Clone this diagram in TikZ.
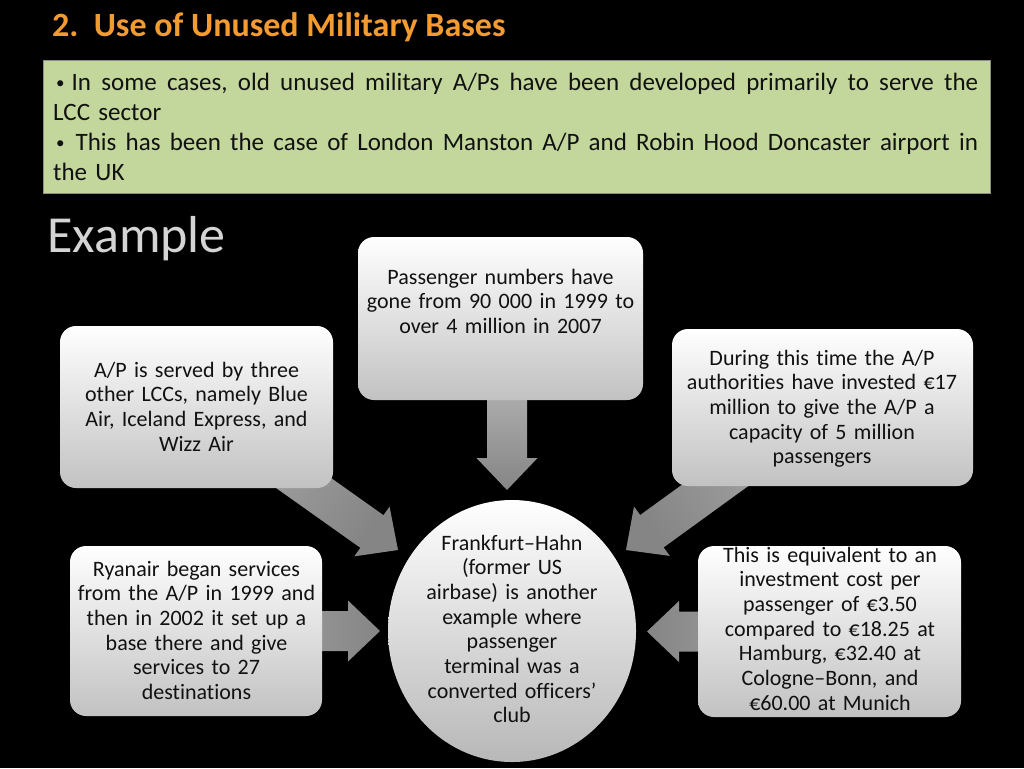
\documentclass[tikz,border=0pt]{standalone}
\usepackage{fontspec}
\setmainfont{Carlito}[Ligatures=NoCommon]
\usetikzlibrary{shapes.geometric,calc}
\pgfdeclarelayer{bg}
\pgfsetlayers{bg,main}
\definecolor{introgreen}{HTML}{C3D69B}
\definecolor{titleorange}{HTML}{F39A30}
\definecolor{examplegray}{HTML}{D4D4D4}
\definecolor{arrowlight}{HTML}{AEAEAE}
\definecolor{arrowdark}{HTML}{858585}
\definecolor{bodytext}{HTML}{111111}
\tikzset{
  infobox/.style={rectangle, rounded corners=16pt, shading=axis, top color=white, bottom color=black!24, inner sep=0},
  hubcircle/.style={ellipse, shading=axis, top color=white, bottom color=black!28, inner sep=0, minimum width=248pt, minimum height=262pt},
  boxtext/.style={anchor=base, inner sep=0, align=center, text=bodytext, text width=290pt, font=\fontsize{22}{24.7}\selectfont},
}
\newcommand{\blkarrow}[3]{%
  \coordinate (bhd) at ($(#3)!32pt!(#2)$);
  \fill[#1] ($(#2)!20pt!90:(#3)$) -- ($(bhd)!20pt!90:(#3)$) -- ($(bhd)!30.5pt!90:(#3)$) -- (#3)
    -- ($(bhd)!30.5pt!-90:(#3)$) -- ($(bhd)!20pt!-90:(#3)$) -- ($(#2)!20pt!-90:(#3)$) -- cycle;}
\newcommand{\smallbullet}{\raisebox{2pt}{\fontsize{17}{17}\selectfont\textbullet}}
\newcommand{\justline}[1]{\leavevmode\hbox to 925pt{\frenchspacing\spaceskip=0.2265em plus 1fil\relax #1}}
\begin{document}
\begin{tikzpicture}[x=1pt,y=-1pt]
\path[use as bounding box] (0,0) rectangle (1024,768);
\begin{pgfonlayer}{bg}
\fill[black] (0,0) rectangle (1024,768);
\end{pgfonlayer}

% title and intro
\node[anchor=base west, inner sep=0, text=titleorange, font=\fontsize{34}{40}\selectfont\bfseries] (title) at (52,37) {2.\hspace{0.45em}Use of Unused Military Bases};
\node[draw=black!45, line width=0.8pt, fill=introgreen, anchor=north west, minimum width=947pt, minimum height=133pt, inner sep=0] (intro) at (43,60) {};
\node[anchor=base west, inner sep=0, text width=925pt, align=left, text=bodytext, font=\fontsize{25}{30}\selectfont] (introtext) at (53,90)
 {\justline{\hspace*{3pt}\smallbullet\hspace*{7pt}In some cases, old unused military A/Ps have been developed primarily to serve the}\\
  LCC sector\\
  \justline{\hspace*{3pt}\smallbullet\hspace*{11pt}This has been the case of London Manston A/P and Robin Hood Doncaster airport in}\\
  the UK};
\node[anchor=base west, inner sep=0, text=examplegray, font=\fontsize{52}{60}\selectfont] (example) at (47,252) {Example};

% boxes
\node[infobox, minimum width=285pt, minimum height=163pt] (topbox) at (500.5,318.5) {};
\node[infobox, minimum width=273pt, minimum height=162pt] (ltbox) at (196.5,407) {};
\node[infobox, minimum width=301pt, minimum height=157pt] (rtbox) at (822.5,407.5) {};
\node[infobox, minimum width=252pt, minimum height=170pt] (lbbox) at (196,631) {};
\node[infobox, minimum width=263pt, minimum height=171pt] (rbbox) at (829.5,631.5) {};
\node[hubcircle] (hub) at (512,631) {};

% texts
\node[boxtext] (toptext) at (500.5,284) {Passenger numbers have\\gone from 90 000 in 1999 to\\over 4 million in 2007};
\node[boxtext] (lttext) at (196.5,377) {A/P is served by three\\other LCCs, namely Blue\\Air, Iceland Express, and\\Wizz Air};
\node[boxtext] (rttext) at (822,365) {During this time the A/P\\authorities have invested €17\\million to give the A/P a\\capacity of 5 million\\passengers};
\node[boxtext] (lbtext) at (196.5,576) {Ryanair began services\\from the A/P in 1999 and\\then in 2002 it set up a\\base there and give\\services to 27\\destinations};
\node[boxtext] (rbtext) at (830,562) {This is equivalent to an\\investment cost per\\passenger of €3.50\\compared to €18.25 at\\Hamburg, €32.40 at\\Cologne–Bonn, and\\€60.00 at Munich};
\node[boxtext] (hubtext) at (512,550) {Frankfurt–Hahn\\(former US\\airbase) is another\\example where\\passenger\\terminal was a\\converted officers’\\club};

% block arrows (behind the boxes)
\coordinate (tailT) at (507,390);
\coordinate (tipT) at (507,490);
\coordinate (tipLT) at (398,550);
\coordinate (tipRT) at (626,550);
\coordinate (tipLB) at (380,631);
\coordinate (tipRB) at (647,631.5);
\begin{pgfonlayer}{bg}
\blkarrow{shading=axis, top color=arrowlight, bottom color=arrowdark}{tailT}{tipT}
\blkarrow{shading=axis, top color=arrowlight, bottom color=arrowdark, shading angle=55}{ltbox.center}{tipLT}
\blkarrow{shading=axis, top color=arrowlight, bottom color=arrowdark, shading angle=-55}{rtbox.center}{tipRT}
\blkarrow{shading=axis, left color=arrowlight, right color=arrowdark}{lbbox.center}{tipLB}
\blkarrow{shading=axis, left color=arrowdark, right color=arrowlight}{rbbox.center}{tipRB}
\end{pgfonlayer}
\end{tikzpicture}
\end{document}
